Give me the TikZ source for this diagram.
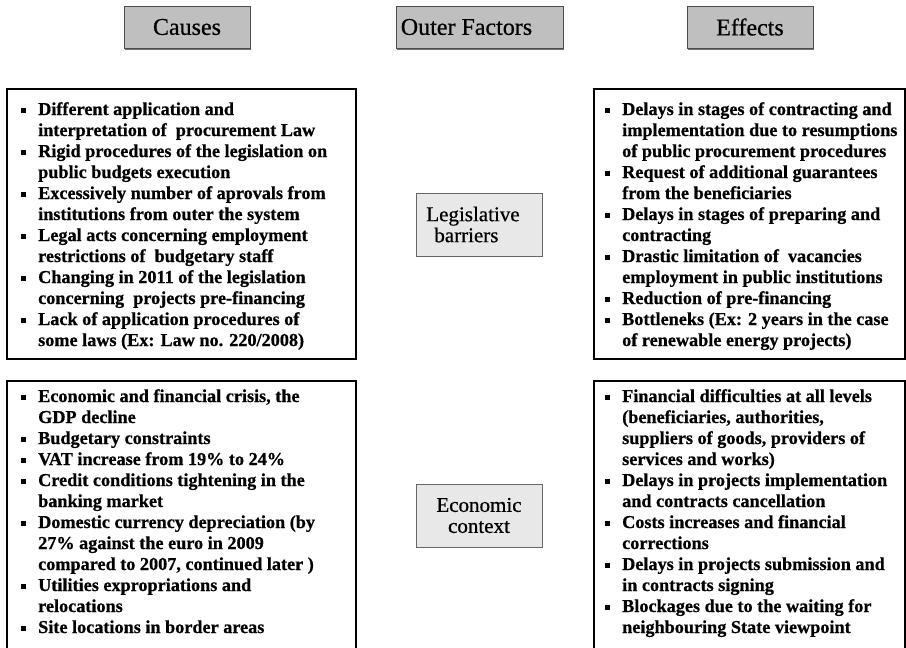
\documentclass[tikz,border=0pt]{standalone}
\usepackage{fontspec}
\setmainfont{Liberation Serif}[UprightFeatures={FakeBold=0.6},BoldFeatures={FakeBold=0.7}]
\usetikzlibrary{shadows}
\definecolor{hdrgray}{HTML}{BFBFBF}
\definecolor{midgray}{HTML}{E8E8E8}
\newcommand\bul{\leavevmode\llap{\raisebox{2pt}{\rule{5pt}{5pt}}\hspace{12pt}}}
\begin{document}
\begin{tikzpicture}[x=1pt,y=-1pt,
  hdr/.style={draw=black!70, fill=hdrgray, line width=0.9pt, inner sep=0pt,
    minimum height=42pt, font=\fontsize{24}{26}\selectfont,
    general shadow={fill=black!55, shadow xshift=1.2pt, shadow yshift=-1.5pt}},
  mid/.style={draw=black!60, fill=midgray, line width=0.9pt, inner sep=0pt,
    minimum width=126pt, minimum height=63pt, align=left,
    font=\fontsize{21}{21}\selectfont,
    general shadow={fill=black!45, shadow xshift=1pt, shadow yshift=-1pt}},
  panel/.style={draw=black, line width=2.2pt, anchor=north west, inner sep=0pt},
  list/.style={anchor=north west, inner sep=0pt, align=left,
    font=\bfseries\fontsize{18.2}{21}\selectfont}]
\useasboundingbox (0,0) rectangle (906,648);
\fill[white] (0,0) rectangle (906,648);

% header boxes
\node[hdr, minimum width=126pt] (causes) at (187,27) {Causes};
\node[hdr, minimum width=167pt] (outer) at (479.5,27) {Outer Factors\hspace*{26pt}};
\node[hdr, minimum width=126pt] (effects) at (750,27) {Effects};

% panels
\node[panel, minimum width=349pt, minimum height=270pt] (lt) at (6,88) {};
\node[panel, minimum width=349pt, minimum height=290pt] (lb) at (6,380) {};
\node[panel, minimum width=311pt, minimum height=270pt] (rt) at (593,88) {};
\node[panel, minimum width=311pt, minimum height=290pt] (rb) at (593,380) {};

% middle boxes
\node[mid] (legis) at (479,224.5) {Legislative\hspace*{12pt}\\\hspace*{8pt}barriers};
\node[mid, align=center] (econ) at (479,515.5) {Economic\\context};

% lists
\node[list] (ltxt) at (38,102) {%
\bul Different application and\\
interpretation of\ \ procurement Law\\
\bul Rigid procedures of the legislation on\\
public budgets execution\\
\bul Excessively number of aprovals from\\
institutions from outer the system\\
\bul Legal acts concerning employment\\
restrictions of\ \ budgetary staff\\
\bul Changing in 2011 of the legislation\\
concerning\ \ projects pre-financing\\
\bul Lack of application procedures of\\
some laws (Ex: Law no. 220/2008)};

\node[list] (lbtxt) at (38,389) {%
\bul Economic and financial crisis, the\\
GDP decline\\
\bul Budgetary constraints\\
\bul VAT increase from 19\% to 24\%\\
\bul Credit conditions tightening in the\\
banking market\\
\bul Domestic currency depreciation (by\\
27\% against the euro in 2009\\
compared to 2007, continued later )\\
\bul Utilities expropriations and\\
relocations\\
\bul Site locations in border areas};

\node[list] (rtxt) at (622,102) {%
\bul Delays in stages of contracting and\\
implementation due to resumptions\\
of public procurement procedures\\
\bul Request of additional guarantees\\
from the beneficiaries\\
\bul Delays in stages of preparing and\\
contracting\\
\bul Drastic limitation of\ \ vacancies\\
employment in public institutions\\
\bul Reduction of pre-financing\\
\bul Bottleneks (Ex: 2 years in the case\\
of renewable energy projects)};

\node[list] (rbtxt) at (622,389) {%
\bul Financial difficulties at all levels\\
(beneficiaries, authorities,\\
suppliers of goods, providers of\\
services and works)\\
\bul Delays in projects implementation\\
and contracts cancellation\\
\bul Costs increases and financial\\
corrections\\
\bul Delays in projects submission and\\
in contracts signing\\
\bul Blockages due to the waiting for\\
neighbouring State viewpoint};
\end{tikzpicture}
\end{document}
